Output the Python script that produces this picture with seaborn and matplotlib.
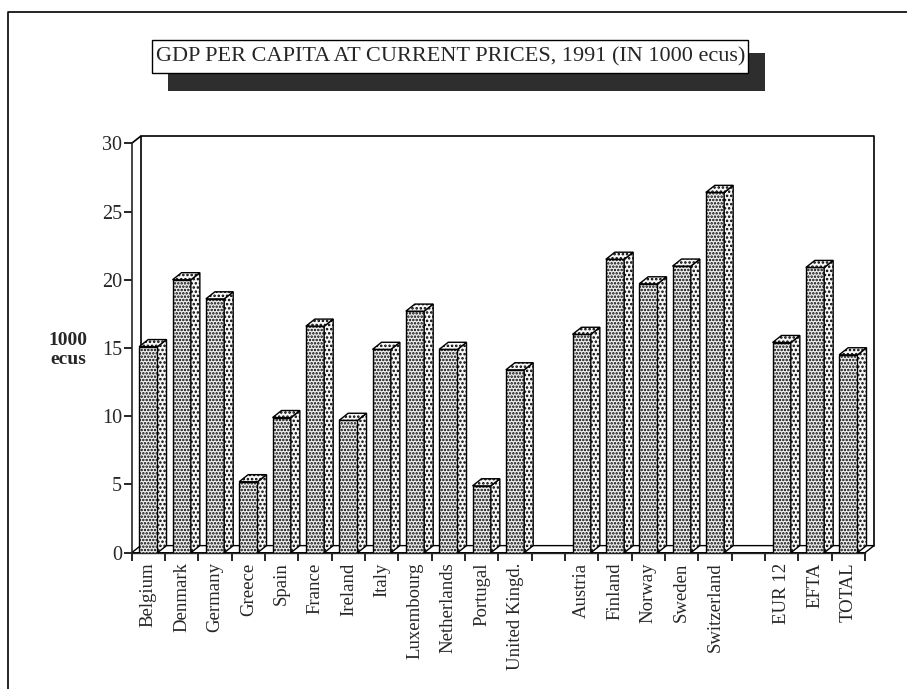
import numpy as np
import pandas as pd
import matplotlib.pyplot as plt
import seaborn as sns
from matplotlib.patches import Polygon, Rectangle
from matplotlib.lines import Line2D

# GDP per capita 1991, in 1000 ecus
eur_countries = ['Belgium', 'Denmark', 'Germany', 'Greece', 'Spain', 'France',
                 'Ireland', 'Italy', 'Luxembourg', 'Netherlands', 'Portugal',
                 'United Kingd.']
eur_values = [15.1, 20.0, 18.6, 5.2, 9.9, 16.6, 9.7, 14.9, 17.7, 14.9, 4.9, 13.4]

efta_countries = ['Austria', 'Finland', 'Norway', 'Sweden', 'Switzerland']
efta_values = [16.0, 21.5, 19.7, 21.0, 26.4]

group_names = ['EUR 12', 'EFTA', 'TOTAL']
group_values = [15.4, 20.9, 14.5]

y_ticks = [0, 5, 10, 15, 20, 25, 30]

# empty slots separate the three groups
order = eur_countries + [' '] + efta_countries + ['  '] + group_names

df = pd.DataFrame({
    'country': eur_countries + efta_countries + group_names,
    'gdp': eur_values + efta_values + group_values,
})

sns.set_style('white')
plt.rcParams['font.family'] = ['Liberation Serif', 'DejaVu Serif']
plt.rcParams['hatch.linewidth'] = 1.2

fig = plt.figure(figsize=(9.07, 6.89), dpi=100)
ax = fig.add_axes([0.1452, 0.1978, 0.8085, 0.5942])

sns.barplot(data=df, x='country', y='gdp', order=order, width=0.55,
            color='#efefef', edgecolor='black', linewidth=1.0,
            hatch='.....', saturation=1, ax=ax, zorder=3)

n = len(order)
ax.set_xlim(-0.5, n - 0.5)
ax.set_ylim(0, 30)

# 3D depth offset in data units
dx, dy = 0.27, 0.52

# back wall and floor
wall = Line2D([-0.5 + dx, -0.5 + dx, n - 0.5 + dx, n - 0.5 + dx],
              [dy, 30 + dy, 30 + dy, dy], color='black', lw=1.2,
              clip_on=False, zorder=1)
ax.add_line(wall)
ax.add_line(Line2D([-0.5, -0.5 + dx], [30, 30 + dy], color='black', lw=1.2,
                   clip_on=False))
floor = Polygon([(-0.5, 0), (-0.5 + dx, dy), (n - 0.5 + dx, dy), (n - 0.5, 0)],
                closed=True, facecolor='white', edgecolor='black', lw=1.0,
                clip_on=False, zorder=2)
ax.add_patch(floor)

# side and top faces of each bar
for bar in list(ax.patches):
    if bar is floor:
        continue
    h = bar.get_height()
    if not np.isfinite(h) or h == 0:
        continue
    x0 = bar.get_x()
    x1 = x0 + bar.get_width()
    side = Polygon([(x1, 0), (x1 + dx, dy), (x1 + dx, h + dy), (x1, h)],
                   closed=True, facecolor='#f6f6f6', edgecolor='black',
                   lw=1.0, hatch='....', clip_on=False, zorder=3)
    top = Polygon([(x0, h), (x0 + dx, h + dy), (x1 + dx, h + dy), (x1, h)],
                  closed=True, facecolor='#f6f6f6', edgecolor='black',
                  lw=1.0, hatch='....', clip_on=False, zorder=3)
    ax.add_patch(side)
    ax.add_patch(top)

# axes styling
for s in ['top', 'right']:
    ax.spines[s].set_visible(False)
ax.spines['left'].set_linewidth(1.2)
ax.spines['bottom'].set_linewidth(1.0)
ax.spines['left'].set_zorder(4)

ax.set_yticks(y_ticks)
ax.set_yticklabels([str(t) for t in y_ticks], fontsize=14.5)
ax.tick_params(axis='y', direction='out', length=6, width=1.2, pad=1,
               color='black', left=True)

ax.set_xticks(range(n))
ax.set_xticklabels(order, rotation=90, fontsize=13.5)
ax.set_xticks(np.arange(n + 1) - 0.5, minor=True)
ax.tick_params(axis='x', which='major', length=0, pad=7)
ax.tick_params(axis='x', which='minor', direction='out', length=6, width=1.2,
               color='black', bottom=True)

ax.set_xlabel('')
ax.set_ylabel('1000\necus', rotation=0, fontsize=14, fontweight='bold',
              va='center', ha='center', linespacing=1.1)
ax.yaxis.set_label_coords(-0.087, 0.495)

# title box with dark shadow
W, H = 907.0, 689.0
fig.patches.append(Rectangle((168 / W, 1 - 91 / H), 597 / W, 38 / H,
                             transform=fig.transFigure, facecolor='#2e2e2e',
                             edgecolor='none', zorder=0))
fig.patches.append(Rectangle((152 / W, 1 - 73 / H), 596 / W, 33 / H,
                             transform=fig.transFigure, facecolor='white',
                             edgecolor='black', lw=1.0, zorder=1))
fig.text(451 / W, 1 - 57 / H, 'GDP PER CAPITA AT CURRENT PRICES, 1991 (IN 1000 ecus)',
         ha='center', va='center', fontsize=16, fontweight='medium', zorder=2)

# page frame
fig.add_artist(Line2D([8 / W, 8 / W, 1.0], [0.0, 1 - 12 / H, 1 - 12 / H],
                      transform=fig.transFigure, color='black', lw=1.2))

fig.savefig('out.png', dpi=100)
